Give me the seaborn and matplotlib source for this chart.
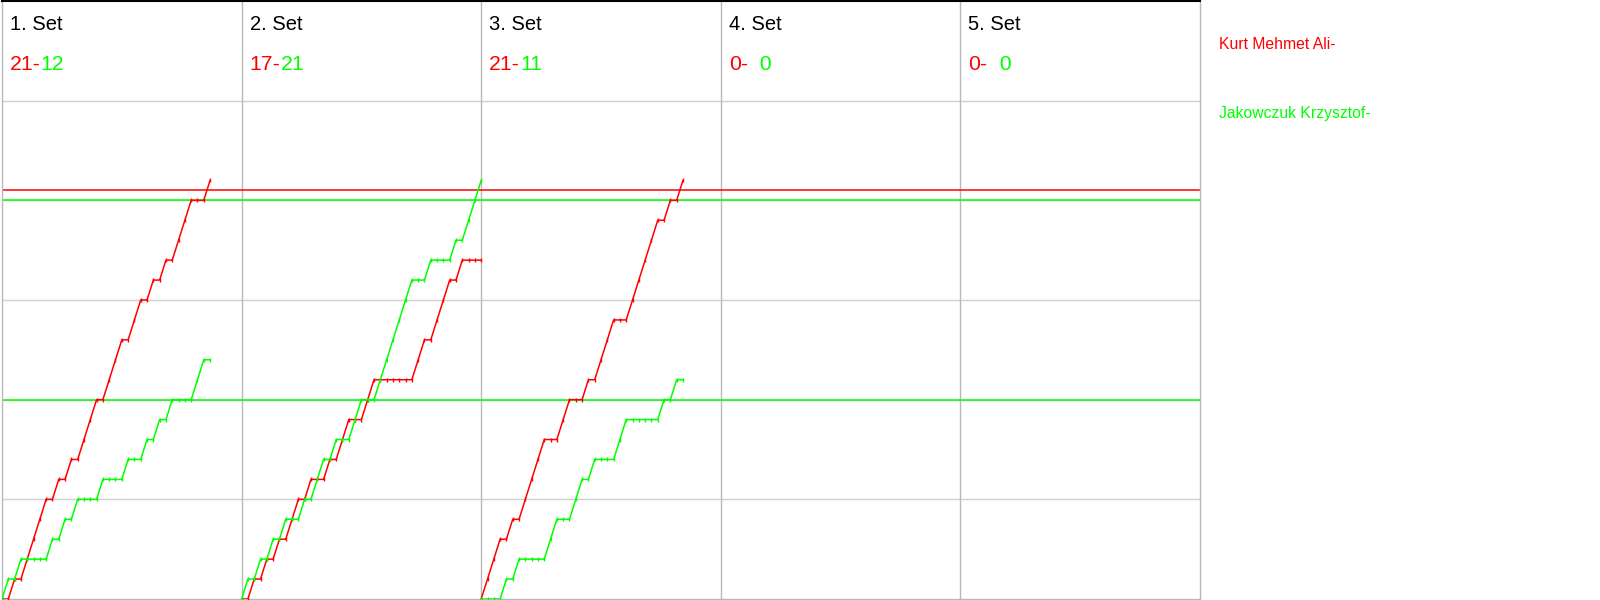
"""
Badminton match progression - score per rally for each set, one panel per set.
"""
import numpy as np
import pandas as pd
import matplotlib
matplotlib.use('Agg')
import matplotlib.pyplot as plt
import seaborn as sns

# ---------------------------------------------------------------
# Data
# ---------------------------------------------------------------
players = ['Kurt Mehmet Ali-', 'Jakowczuk Krzysztof-']
player_codes = ['R', 'G']
colors = ['#ff0000', '#00ff00']
set_labels = ['1. Set', '2. Set', '3. Set', '4. Set', '5. Set']
red_scores = [21, 17, 21, 0, 0]
green_scores = [12, 21, 11, 0, 0]

# winner of every rally, R = Kurt Mehmet Ali, G = Jakowczuk Krzysztof
rallies_set1 = 'GRGRRRRGRGRGRRRGRRRGRRGRGRGRRRGGR'
rallies_set2 = 'GRGRGRGRRGRGGRGRRGGRRGGGGGGRRGRRRGRGGG'
rallies_set3 = 'RRRGRGRRRRGGRRGGRGRRRGGRRRRRGRGR'
rallies = [rallies_set1, rallies_set2, rallies_set3, '', '']

# reference lines across all sets
ref_levels = [20.5, 20, 10]
ref_colors = ['#ff0000', '#00ff00', '#00ff00']

panel_len = 38   # rallies shown per set panel
y_max = 30

# ---------------------------------------------------------------
# Long table: cumulative score after each rally
# ---------------------------------------------------------------
rows = []
for k, seq in enumerate(rallies):
    if not seq:
        continue
    wins = np.array(list(seq))
    for name, code in zip(players, player_codes):
        score = np.concatenate([[0], np.cumsum(wins == code)])
        x = k * panel_len + np.arange(len(score))
        for xi, si in zip(x, score):
            rows.append({'set': k, 'player': name, 'x': xi, 'score': si})
df = pd.DataFrame(rows)

# ---------------------------------------------------------------
# Plot
# ---------------------------------------------------------------
sns.set_style('white')
plt.rcParams['font.family'] = ['Liberation Sans', 'DejaVu Sans']

W, H = 1600, 600
fig = plt.figure(figsize=(16, 6), dpi=100)
ax_left, ax_right, ax_top, ax_bottom = 2, 1200, 1, 599
ax = fig.add_axes([ax_left / W, 1 - ax_bottom / H,
                   (ax_right - ax_left) / W, (ax_bottom - ax_top) / H])

sns.lineplot(data=df, x='x', y='score', hue='player', units='set',
             estimator=None, palette=dict(zip(players, colors)),
             hue_order=players, linewidth=1.1, legend=False, ax=ax, zorder=3,
             marker='|', markersize=3.5, markeredgewidth=1.0,
             markeredgecolor='auto')

for lvl, c in zip(ref_levels, ref_colors):
    ax.axhline(lvl, color=c, linewidth=1.1, zorder=2)

n_sets = len(set_labels)
ax.set_xlim(0, n_sets * panel_len)
ax.set_ylim(0, y_max)
ax.set_yticks(np.arange(5, y_max, 5))
ax.set_xticks([])
ax.yaxis.grid(True, color='#d0d0d0', linewidth=1)
ax.tick_params(left=False, labelleft=False, bottom=False, labelbottom=False)
ax.set_xlabel('')
ax.set_ylabel('')
for k in range(1, n_sets):
    ax.axvline(k * panel_len, color='#b8b8b8', linewidth=1, zorder=1)
for side in ['left', 'right', 'bottom']:
    ax.spines[side].set_color('#b8b8b8')
    ax.spines[side].set_linewidth(1)
ax.spines['top'].set_color('black')
ax.spines['top'].set_linewidth(1.5)

# set headers and scores
renderer = fig.canvas.get_renderer()
panel_w = (ax_right - ax_left) / n_sets
for k, lab in enumerate(set_labels):
    x0 = ax_left + k * panel_w + 8
    fig.text(x0 / W, 1 - 30 / H, lab, fontsize=14.5, color='black', va='baseline')
    t_red = fig.text(x0 / W, 1 - 70 / H, f'{red_scores[k]}-', fontsize=15.3,
                     color=colors[0], va='baseline')
    bb = t_red.get_window_extent(renderer)
    g_txt = f'{green_scores[k]}' if green_scores[k] else f'  {green_scores[k]}'
    fig.text(bb.x1 / W, 1 - 70 / H, g_txt, fontsize=15.3,
             color=colors[1], va='baseline')

# player names on the right
for name, c, yb in zip(players, colors, [49, 118]):
    fig.text(1219 / W, 1 - yb / H, name, fontsize=11.3, color=c, va='baseline')

fig.savefig('out.png', dpi=100)
